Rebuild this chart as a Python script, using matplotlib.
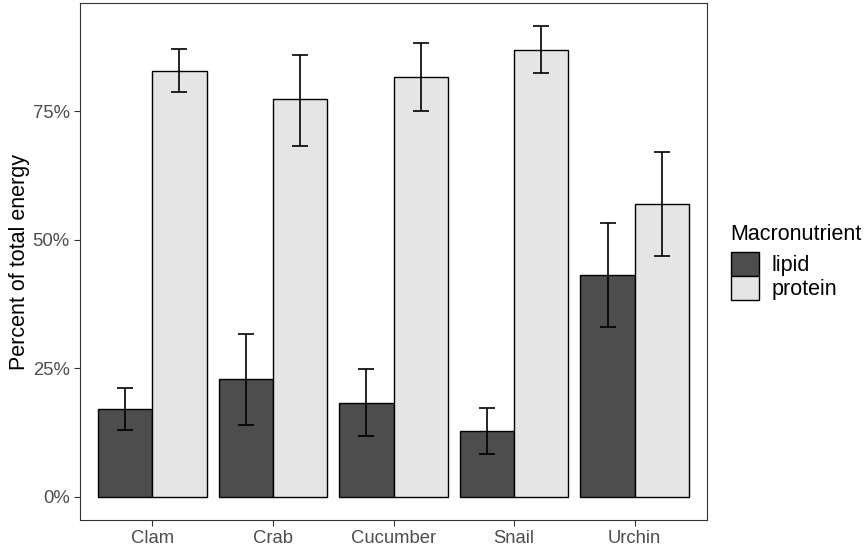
import matplotlib
matplotlib.use("Agg")
import matplotlib.pyplot as plt
import numpy as np
from matplotlib.patches import Patch
from matplotlib.ticker import FuncFormatter

plt.rcParams['font.family'] = ['Liberation Sans', 'DejaVu Sans']

categories = ["Clam", "Crab", "Cucumber", "Snail", "Urchin"]
lipid = [17.1, 22.9, 18.3, 12.8, 43.1]
lipid_lo = [13.0, 14.0, 11.7, 8.3, 33.0]
lipid_hi = [21.2, 31.7, 24.9, 17.3, 53.2]
protein = [82.9, 77.3, 81.7, 87.0, 56.9]
protein_lo = [78.8, 68.3, 75.1, 82.5, 46.8]
protein_hi = [87.2, 86.0, 88.3, 91.5, 67.0]

fig = plt.figure(figsize=(8.67, 5.52), dpi=100)
ax = fig.add_axes([80/867, 1-520/552, (707-80)/867, (520-3)/552])

x = np.arange(1, len(categories)+1)
w = 0.45
c_lipid = "#4D4D4D"
c_prot = "#E5E5E5"
ax.bar(x - w/2, lipid, w, color=c_lipid, edgecolor="black", linewidth=1.0, zorder=2)
ax.bar(x + w/2, protein, w, color=c_prot, edgecolor="black", linewidth=1.0, zorder=2)

lip = np.array(lipid); pro = np.array(protein)
ax.errorbar(x - w/2, lip, yerr=[lip - np.array(lipid_lo), np.array(lipid_hi) - lip],
            fmt='none', ecolor='black', elinewidth=1.2, capsize=6, capthick=1.2, zorder=3)
ax.errorbar(x + w/2, pro, yerr=[pro - np.array(protein_lo), np.array(protein_hi) - pro],
            fmt='none', ecolor='black', elinewidth=1.2, capsize=6, capthick=1.2, zorder=3)

ymax = 91.5
ax.set_ylim(-0.05*ymax, ymax*1.05)
ax.set_xlim(0.4, 5.6)
ax.set_yticks([0, 25, 50, 75])
ax.yaxis.set_major_formatter(FuncFormatter(lambda v, p: f"{int(v)}%"))
ax.set_xticks(x)
ax.set_xticklabels(categories)
ax.tick_params(axis='both', colors='#333333', labelcolor='#4D4D4D', labelsize=13.3, length=4, width=0.8)
ax.set_ylabel("Percent of total energy", fontsize=15.5, color='black', labelpad=2)
for s in ax.spines.values():
    s.set_color('#333333')
    s.set_linewidth(0.8)

handles = [Patch(facecolor=c_lipid, edgecolor='black', label='lipid'),
           Patch(facecolor=c_prot, edgecolor='black', label='protein')]
leg = fig.legend(handles=handles, title="Macronutrient", loc='upper left',
                 bbox_to_anchor=(722/867, 1-215/552), frameon=False, fontsize=15.5,
                 title_fontsize=15.5, handlelength=1.3, handleheight=1.35,
                 handletextpad=0.6, labelspacing=0.0, borderaxespad=0)
leg._legend_box.align = "left"
leg._legend_box.sep = 5

fig.savefig("out.png", dpi=100)
